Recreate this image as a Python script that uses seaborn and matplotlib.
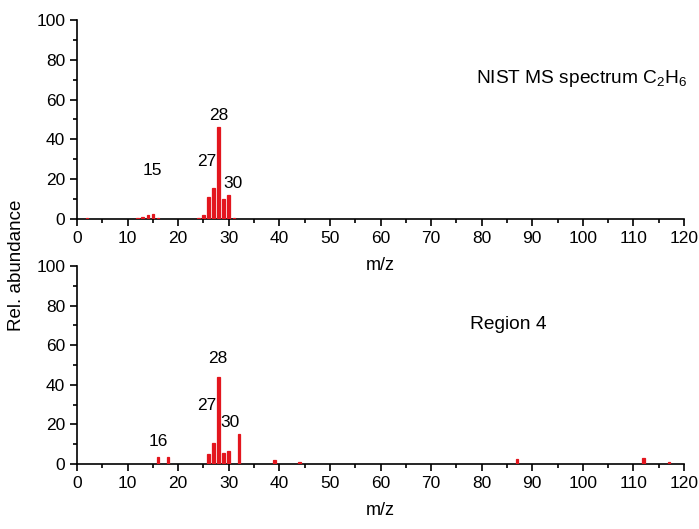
"""
Mass spectra: NIST reference for C2H6 vs. measured Region 4
"""

import numpy as np
import pandas as pd
import matplotlib
matplotlib.use('Agg')
import matplotlib.pyplot as plt
from matplotlib.ticker import MultipleLocator
import seaborn as sns

# NIST MS spectrum C2H6 (scaled)
nist_mz = [2, 12, 13, 14, 15, 16, 24, 25, 26, 27, 28, 29, 30, 31]
nist_abund = [0.3, 0.5, 0.9, 1.8, 2.5, 0.5, 0.4, 2.2, 10.9, 15.4, 46.0, 10.2, 12.2, 0.3]

# Region 4 measured spectrum
reg_mz = [16, 18, 26, 27, 28, 29, 30, 32, 39, 44, 87, 112, 117]
reg_abund = [3.5, 3.3, 4.9, 10.5, 44.0, 5.4, 6.6, 15.0, 1.8, 1.0, 2.5, 3.0, 1.0]

peak_color = '#e3161e'
font_size = 12.5

sns.set_style('ticks', {'text.color': 'black', 'axes.labelcolor': 'black',
                        'xtick.color': 'black', 'ytick.color': 'black',
                        'axes.edgecolor': 'black'})
plt.rcParams['font.family'] = ['Liberation Sans', 'DejaVu Sans']
plt.rcParams['mathtext.fontset'] = 'custom'
plt.rcParams['mathtext.rm'] = 'Liberation Sans'
plt.rcParams['mathtext.it'] = 'Liberation Sans:italic'

fig = plt.figure(figsize=(6.99, 5.29), dpi=100)
ax_top = fig.add_axes([77 / 699, 1 - 219 / 529, 607 / 699, 199 / 529])
ax_bot = fig.add_axes([77 / 699, 1 - 464 / 529, 607 / 699, 198 / 529])
ax_bot.set_facecolor('none')


def draw_spectrum(ax, mz, abund, title, labels):
    df = pd.DataFrame({'mz': mz, 'abund': abund})
    sns.barplot(data=df, x='mz', y='abund', native_scale=True, width=0.5,
                color=peak_color, saturation=1, edgecolor=peak_color,
                linewidth=0.9, ax=ax)
    ax.set_xlim(0, 120)
    ax.set_ylim(0, 100)
    ax.xaxis.set_major_locator(MultipleLocator(10))
    ax.xaxis.set_minor_locator(MultipleLocator(5))
    ax.yaxis.set_major_locator(MultipleLocator(20))
    ax.yaxis.set_minor_locator(MultipleLocator(10))
    ax.tick_params(which='major', length=5, width=1.2, labelsize=font_size, direction='out')
    ax.tick_params(which='minor', length=3, width=1.2, direction='out')
    for side in ['left', 'bottom']:
        ax.spines[side].set_linewidth(1.2)
        ax.spines[side].set_zorder(0.5)
    sns.despine(ax=ax)
    ax.set_xlabel('m/z', fontsize=font_size + 0.5, labelpad=8)
    ax.set_ylabel('')
    ax.text(title[1], title[2], title[0], fontsize=font_size + 1.3, ha='left', va='center')
    for txt, x, y in labels:
        ax.text(x, y, txt, fontsize=font_size, ha='center', va='center')


draw_spectrum(ax_top, nist_mz, nist_abund,
              ('NIST MS spectrum C$_2$H$_6$', 78.8, 70.8),
              [('15', 15.0, 24.6), ('28', 28.0, 51.8), ('27', 25.7, 29.0), ('30', 30.8, 18.0)])
draw_spectrum(ax_bot, reg_mz, reg_abund,
              ('Region 4', 77.6, 70.7),
              [('16', 16.0, 11.6), ('28', 27.9, 53.5), ('27', 25.7, 29.3), ('30', 30.3, 21.2)])

fig.text(17 / 699, 1 - 265 / 529, 'Rel. abundance', rotation=90, fontsize=font_size + 1,
         ha='center', va='center')

plt.savefig('out.png', dpi=100)
